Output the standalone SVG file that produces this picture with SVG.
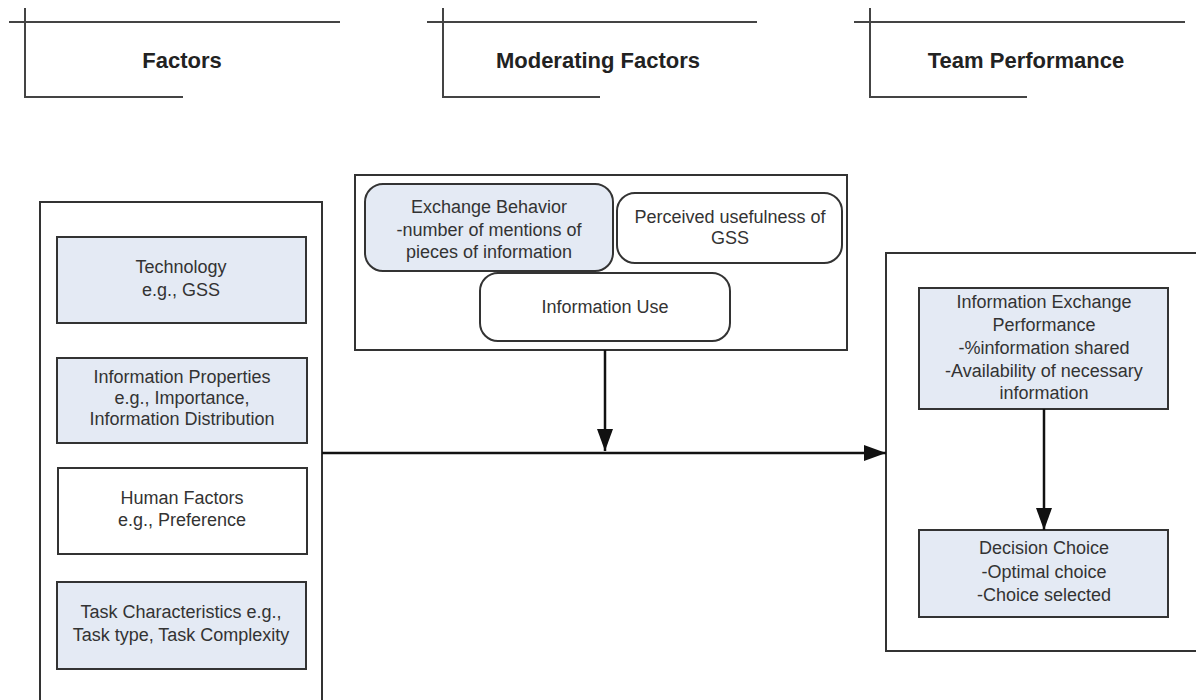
<svg xmlns="http://www.w3.org/2000/svg" width="1196" height="700" viewBox="0 0 1196 700">
<defs>
<style>
.hl{stroke:#444;stroke-width:2;fill:none}
.hd{font-family:"Liberation Sans",Arial,sans-serif;font-size:22px;font-weight:bold;fill:#222;text-anchor:middle}
.t{font-family:"Liberation Sans",Arial,sans-serif;font-size:18px;fill:#333;text-anchor:middle}
.box{stroke:#333;stroke-width:2;fill:#fff}
.blue{stroke:#333;stroke-width:2;fill:#e4eaf4}
.white{stroke:#333;stroke-width:2;fill:#fff}
.con{stroke:#111;stroke-width:2.5;fill:none}
</style>
<marker id="ahb" markerWidth="22" markerHeight="16" refX="22" refY="8" orient="auto" markerUnits="userSpaceOnUse" viewBox="0 0 22 16">
<path d="M0,0 L22,8 L0,16 Z" fill="#111"/>
</marker>
</defs>
<rect width="1196" height="700" fill="#fff"/>

<g id="header-factors">
<path class="hl" d="M9,22 H340 M25,8 V97 H183"/>
<text class="hd" x="182" y="68">Factors</text>
</g>
<g id="header-moderating">
<path class="hl" d="M427,22 H757 M443,8 V97 H600"/>
<text class="hd" x="598" y="68">Moderating Factors</text>
</g>
<g id="header-team">
<path class="hl" d="M854,22 H1185 M870,8 V97 H1027"/>
<text class="hd" x="1026" y="68">Team Performance</text>
</g>

<g id="factors-container">
<rect class="box" x="40" y="202" width="282" height="520"/>
</g>
<g id="technology">
<rect class="blue" x="57" y="237" width="249" height="86"/>
<text class="t" x="181" y="273">Technology</text>
<text class="t" x="181" y="296">e.g., GSS</text>
</g>
<g id="information-properties">
<rect class="blue" x="57" y="358" width="250" height="85"/>
<text class="t" x="182" y="383">Information Properties</text>
<text class="t" x="182" y="404">e.g., Importance,</text>
<text class="t" x="182" y="425">Information Distribution</text>
</g>
<g id="human-factors">
<rect class="white" x="58" y="468" width="249" height="86"/>
<text class="t" x="182" y="504">Human Factors</text>
<text class="t" x="182" y="526">e.g., Preference</text>
</g>
<g id="task-characteristics">
<rect class="blue" x="57" y="582" width="249" height="87"/>
<text class="t" x="181" y="618">Task Characteristics e.g.,</text>
<text class="t" x="181" y="641">Task type, Task Complexity</text>
</g>

<g id="moderating-container">
<rect class="box" x="355" y="175" width="492" height="175"/>
</g>
<g id="exchange-behavior">
<rect class="blue" x="365" y="184" width="248" height="87" rx="18"/>
<text class="t" x="489" y="213">Exchange Behavior</text>
<text class="t" x="489" y="236">-number of mentions of</text>
<text class="t" x="489" y="258">pieces of information</text>
</g>
<g id="perceived-usefulness">
<rect class="white" x="617" y="193" width="225" height="70" rx="18"/>
<text class="t" x="730" y="223">Perceived usefulness of</text>
<text class="t" x="730" y="244">GSS</text>
</g>
<g id="information-use">
<rect class="white" x="480" y="273" width="250" height="68" rx="18"/>
<text class="t" x="605" y="313">Information Use</text>
</g>

<g id="team-container">
<rect class="box" x="886" y="253" width="330" height="398"/>
</g>
<g id="information-exchange-performance">
<rect class="blue" x="919" y="288" width="249" height="121"/>
<text class="t" x="1044" y="308">Information Exchange</text>
<text class="t" x="1044" y="331">Performance</text>
<text class="t" x="1044" y="354">-%information shared</text>
<text class="t" x="1044" y="377">-Availability of necessary</text>
<text class="t" x="1044" y="399">information</text>
</g>
<g id="decision-choice">
<rect class="blue" x="919" y="530" width="249" height="87"/>
<text class="t" x="1044" y="554">Decision Choice</text>
<text class="t" x="1044" y="578">-Optimal choice</text>
<text class="t" x="1044" y="601">-Choice selected</text>
</g>

<g id="connectors">
<line class="con" x1="322" y1="453" x2="886" y2="453" marker-end="url(#ahb)"/>
<line class="con" x1="605" y1="350" x2="605" y2="451" marker-end="url(#ahb)"/>
<line class="con" x1="1044" y1="409" x2="1044" y2="530" marker-end="url(#ahb)"/>
</g>
</svg>
